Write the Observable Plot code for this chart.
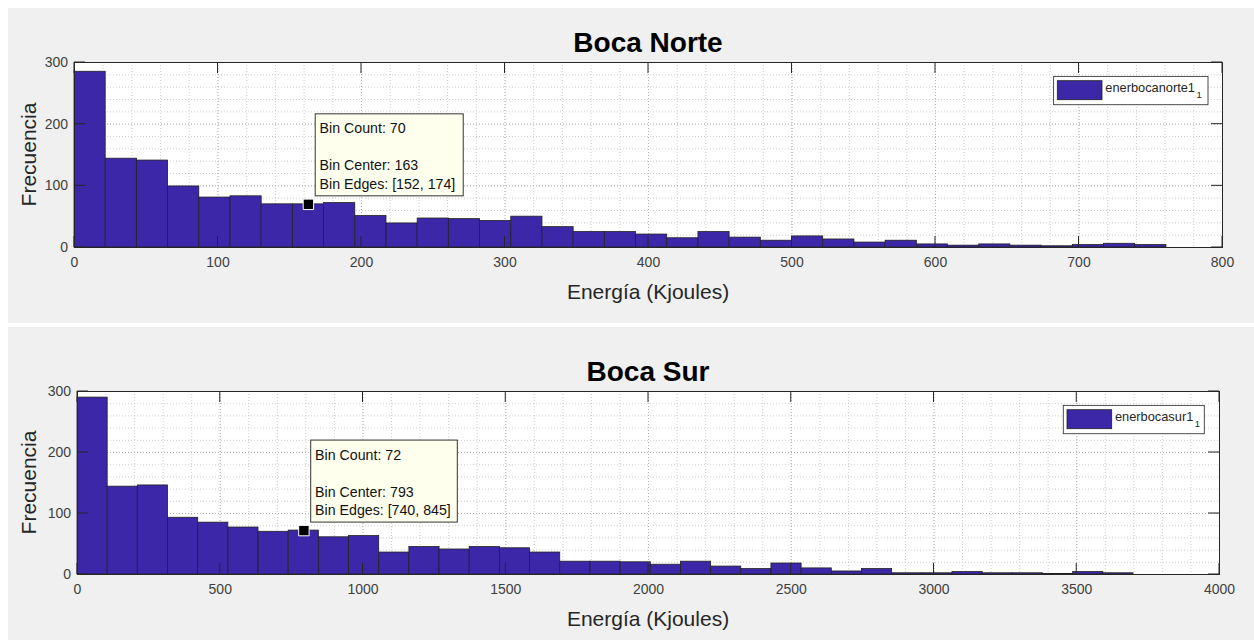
<!DOCTYPE html>
<html>
<head>
<meta charset="utf-8">
<script src="https://cdn.jsdelivr.net/npm/d3@7"></script>
<script src="https://cdn.jsdelivr.net/npm/@observablehq/plot@0.6"></script>
<style>
  html, body { margin: 0; padding: 0; background: #ffffff; }
  body { width: 1254px; height: 640px; overflow: hidden; position: relative; font-family: "Liberation Sans", Arial, sans-serif; }
  .panel { position: absolute; left: 8px; width: 1246px; background: #f0f0f0; }
  .panel svg { position: absolute; left: 0; top: 0; }
</style>
</head>
<body>
<div id="p1" class="panel" style="top:8px;height:315px;"></div>
<div id="p2" class="panel" style="top:327px;height:313px;"></div>
<script>
// ---- data ----
const nortTitle = "Boca Norte";
const surTitle = "Boca Sur";
const xLabel = "Energía (Kjoules)";
const yLabel = "Frecuencia";
const nortLegend = "enerbocanorte1";
const surLegend = "enerbocasur1";

const nortCounts = [285,144,141,99,81,83,70,70,72,51,39,47,46,43,50,33,25,25,21,15,25,16,11,18,13,8,11,5,3,5,3,2,4,6,4];
const nortBinWidth = 21.74;
const surCounts = [290,144,146,93,85,77,70,72,61,63,36,45,41,45,43,36,21,21,20,16,21,13,9,18,10,5,9,2,2,4,2,2,1,4,2];
const surBinWidth = 105.68;

const nortXTicks = [0,100,200,300,400,500,600,700,800];
const surXTicks = [0,500,1000,1500,2000,2500,3000,3500,4000];
const yTicks = [0,100,200,300];

const nortTip = {count: 70, center: 163, lo: 152, hi: 174};
const surTip = {count: 72, center: 793, lo: 740, hi: 845};

const barFill = "#3b27a8";
const axisColor = "#262626";

function decor(cfg) {
  return (index, scales, values, dim) => {
    const sx = scales.x, sy = scales.y;
    const L = dim.marginLeft, R = dim.width - dim.marginRight;
    const T = dim.marginTop, B = dim.height - dim.marginBottom;
    const g = d3.create("svg:g");
    // inward ticks
    for (const v of cfg.xTicks) {
      const px = sx(v);
      g.append("line").attr("x1", px).attr("x2", px).attr("y1", B).attr("y2", B - 11).attr("stroke", axisColor);
      g.append("line").attr("x1", px).attr("x2", px).attr("y1", T).attr("y2", T + 11).attr("stroke", axisColor);
    }
    for (const v of yTicks) {
      const py = sy(v);
      g.append("line").attr("x1", L).attr("x2", L + 11).attr("y1", py).attr("y2", py).attr("stroke", axisColor);
      g.append("line").attr("x1", R).attr("x2", R - 11).attr("y1", py).attr("y2", py).attr("stroke", axisColor);
    }
    // title
    g.append("text").attr("x", (L + R) / 2).attr("y", T - 10)
      .attr("text-anchor", "middle").attr("font-size", 28).attr("font-weight", "bold")
      .attr("fill", "#000").text(cfg.title);
    // x label
    g.append("text").attr("x", (L + R) / 2).attr("y", B + 52)
      .attr("text-anchor", "middle").attr("font-size", 21).attr("fill", axisColor).text(xLabel);
    // y label
    g.append("text").attr("transform", `translate(27.5,${(T + B) / 2}) rotate(-90)`)
      .attr("text-anchor", "middle").attr("font-size", 21).attr("fill", axisColor).text(yLabel);
    // legend
    const lx = R - cfg.legendRight - cfg.legendW, ly = T + 14.4;
    g.append("rect").attr("x", lx).attr("y", ly).attr("width", cfg.legendW).attr("height", 28.3)
      .attr("fill", "#fff").attr("stroke", "#3a3a3a").attr("stroke-width", 0.9);
    g.append("rect").attr("x", lx + 3.7).attr("y", ly + 4.3).attr("width", 44.7).attr("height", 19)
      .attr("fill", barFill).attr("stroke", "#1e1e1e").attr("stroke-width", 0.8);
    const lt = g.append("text").attr("x", lx + 51.7).attr("y", ly + 16).attr("text-anchor", "start")
      .attr("font-size", 12.8).attr("fill", "#262626").text(cfg.legend);
    lt.append("tspan").attr("dx", 1.5).attr("dy", 6).attr("font-size", 9.5).text("1");
    // data tip box
    const tx = sx(cfg.tip.center), ty = sy(cfg.tip.count);
    const bx = tx + 7.3, by = ty - 90;
    g.append("rect").attr("x", bx).attr("y", by).attr("width", cfg.tipW).attr("height", 82)
      .attr("fill", "#ffffee").attr("stroke", "#333").attr("stroke-width", 1);
    const lines = [
      [`Bin Count: ${cfg.tip.count}`, 19.5],
      [`Bin Center: ${cfg.tip.center}`, 56.5],
      [`Bin Edges: [${cfg.tip.lo}, ${cfg.tip.hi}]`, 75]
    ];
    for (const [t, off] of lines) {
      g.append("text").attr("x", bx + 4.4).attr("y", by + off).attr("text-anchor", "start")
        .attr("font-size", 14.2).attr("fill", "#111").text(t);
    }
    return g.node();
  };
}

function makeChart(cfg) {
  const bins = cfg.counts.map((c, i) => ({x1: i * cfg.binWidth, x2: (i + 1) * cfg.binWidth, count: c}));
  const xMinor = d3.range(0, cfg.xMax + 1e-9, cfg.minorStep);
  const xMajor = cfg.xTicks;
  const yMinor = d3.range(0, 301, 20);
  return Plot.plot({
    width: 1246,
    height: cfg.height,
    marginLeft: cfg.ml, marginRight: cfg.mr, marginTop: cfg.mt, marginBottom: cfg.mb,
    style: {background: "transparent", fontFamily: "'Liberation Sans', Arial, sans-serif", overflow: "visible"},
    x: {domain: [0, cfg.xMax], axis: null},
    y: {domain: [0, 300], axis: null},
    marks: [
      Plot.frame({fill: "#ffffff", stroke: "none"}),
      Plot.ruleX(xMinor, {x: d => d, stroke: "#c2c2c2", strokeWidth: 0.8, strokeDasharray: "1,2"}),
      Plot.ruleY(yMinor, {y: d => d, stroke: "#c2c2c2", strokeWidth: 0.8, strokeDasharray: "1,2"}),
      Plot.ruleX(xMajor, {x: d => d, stroke: "#a9a9a9", strokeWidth: 0.8, strokeDasharray: "1,2"}),
      Plot.ruleY(yTicks, {y: d => d, stroke: "#a9a9a9", strokeWidth: 0.8, strokeDasharray: "1,2"}),
      Plot.rect(bins, {x1: "x1", x2: "x2", y1: 0, y2: "count", fill: barFill, stroke: "#222", strokeWidth: 0.8}),
      Plot.frame({stroke: axisColor, strokeWidth: 1}),
      Plot.text(cfg.xTicks, {x: d => d, y: 0, dy: 15.5, text: d => String(d), fontSize: 14, fill: "#404040"}),
      Plot.text(yTicks, {x: 0, y: d => d, dx: -6.5, text: d => String(d), textAnchor: "end", fontSize: 14, fill: "#404040"}),
      decor(cfg),
      Plot.dot([cfg.tip], {x: "center", y: "count", symbol: "square", r: 5.9, fill: "#000", stroke: "#fff", strokeWidth: 1})
    ]
  });
}

document.getElementById("p1").append(makeChart({
  title: nortTitle, legend: nortLegend, counts: nortCounts, binWidth: nortBinWidth,
  xMax: 800, minorStep: 20, xTicks: nortXTicks, tip: nortTip,
  height: 315, ml: 66, mr: 32, mt: 54, mb: 76,
  legendW: 154.4, legendRight: 14, tipW: 148
}));
document.getElementById("p2").append(makeChart({
  title: surTitle, legend: surLegend, counts: surCounts, binWidth: surBinWidth,
  xMax: 4000, minorStep: 100, xTicks: surXTicks, tip: surTip,
  height: 313, ml: 69, mr: 35, mt: 64, mb: 66,
  legendW: 141, legendRight: 14.7, tipW: 146.6
}));
</script>
</body>
</html>
